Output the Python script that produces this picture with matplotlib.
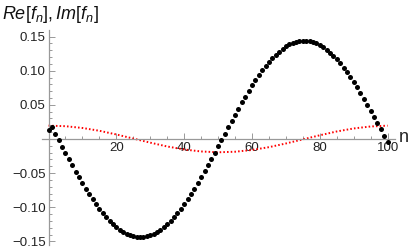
import matplotlib
matplotlib.use('Agg')
import matplotlib.pyplot as plt
import numpy as np
from matplotlib.ticker import MultipleLocator, FixedFormatter, FixedLocator

plt.rcParams['font.family'] = ['Liberation Sans', 'DejaVu Sans']
plt.rcParams['mathtext.fontset'] = 'custom'
plt.rcParams['mathtext.rm'] = 'Liberation Sans'
plt.rcParams['mathtext.it'] = 'Liberation Sans:italic'

# black points: Re[f_n], n = 0..100
n_black = np.arange(0, 101)
re_f = [0.0130, 0.0168, 0.0075, -0.0019, -0.0112, -0.0205, -0.0297, -0.0388, -0.0477, -0.0564,
        -0.0649, -0.0731, -0.0811, -0.0886, -0.0958, -0.1025, -0.1089, -0.1148, -0.1202, -0.1251,
        -0.1295, -0.1333, -0.1365, -0.1392, -0.1413, -0.1428, -0.1437, -0.1440, -0.1437, -0.1428,
        -0.1412, -0.1391, -0.1364, -0.1331, -0.1293, -0.1248, -0.1199, -0.1145, -0.1085, -0.1022,
        -0.0954, -0.0882, -0.0807, -0.0727, -0.0645, -0.0560, -0.0473, -0.0383, -0.0292, -0.0200,
        -0.0107, -0.0014, 0.0080, 0.0173, 0.0265, 0.0357, 0.0446, 0.0535, 0.0620, 0.0703,
        0.0784, 0.0860, 0.0933, 0.1003, 0.1068, 0.1128, 0.1184, 0.1235, 0.1280, 0.1320,
        0.1355, 0.1384, 0.1407, 0.1424, 0.1435, 0.1440, 0.1439, 0.1431, 0.1418, 0.1399,
        0.1374, 0.1343, 0.1307, 0.1265, 0.1217, 0.1164, 0.1107, 0.1045, 0.0978, 0.0908,
        0.0833, 0.0755, 0.0674, 0.0590, 0.0503, 0.0415, 0.0324, 0.0233, 0.0140, 0.0047,
        -0.0047]

# red dotted curve: Im[f_n]
n_red = [0, 5, 10, 15, 20, 25, 30, 35, 40, 45, 50, 55, 60, 65, 70, 75, 80, 85, 90, 95, 100]
im_f = [0.0195, 0.0187, 0.0161, 0.0120, 0.0066, 0.0006, -0.0054, -0.0110, -0.0154, -0.0183,
        -0.0195, -0.0187, -0.0161, -0.0120, -0.0066, -0.0006, 0.0054, 0.0110, 0.0154, 0.0183,
        0.0195]

y_ticks = [-0.15, -0.10, -0.05, 0.05, 0.10, 0.15]
y_labels = ['\u22120.15', '\u22120.10', '\u22120.05', '0.05', '0.10', '0.15']
x_ticks = [20, 40, 60, 80, 100]

fig = plt.figure(figsize=(4.15, 2.52), dpi=100)
ax = fig.add_axes([0.101, 0.028, 0.851, 0.853])

ax.plot(n_red, im_f, color='red', lw=1.4, linestyle=(0, (0.8, 1.1)), zorder=2)
ax.scatter(n_black, re_f, s=13, color='black', linewidths=0, zorder=3)

ax.set_xlim(-1.95, 102.2)
ax.set_ylim(-0.1552, 0.1596)

for s in ['top', 'right']:
    ax.spines[s].set_visible(False)
ax.spines['left'].set_position(('data', 0))
ax.spines['bottom'].set_position(('data', 0))
for s in ['left', 'bottom']:
    ax.spines[s].set_color('#999999')
    ax.spines[s].set_linewidth(0.9)

ax.xaxis.set_major_locator(FixedLocator(x_ticks))
ax.xaxis.set_minor_locator(MultipleLocator(5))
ax.yaxis.set_major_locator(FixedLocator(y_ticks))
ax.yaxis.set_major_formatter(FixedFormatter(y_labels))
ax.yaxis.set_minor_locator(MultipleLocator(0.01))
ax.tick_params(which='both', direction='in', color='#999999', width=0.7,
               labelsize=9.5, labelcolor='#222222', pad=2)
ax.tick_params(which='major', length=4)
ax.tick_params(which='minor', length=2)

fig.text(0.005, 0.985, r'$\mathit{Re}[\mathit{f}_n],\mathit{Im}[\mathit{f}_n]$', fontsize=13,
         ha='left', va='top', color='#111111')
fig.text(0.962, 0.455, 'n', fontsize=13, ha='left', va='center', color='#222222')

fig.savefig('out.png', dpi=100)
